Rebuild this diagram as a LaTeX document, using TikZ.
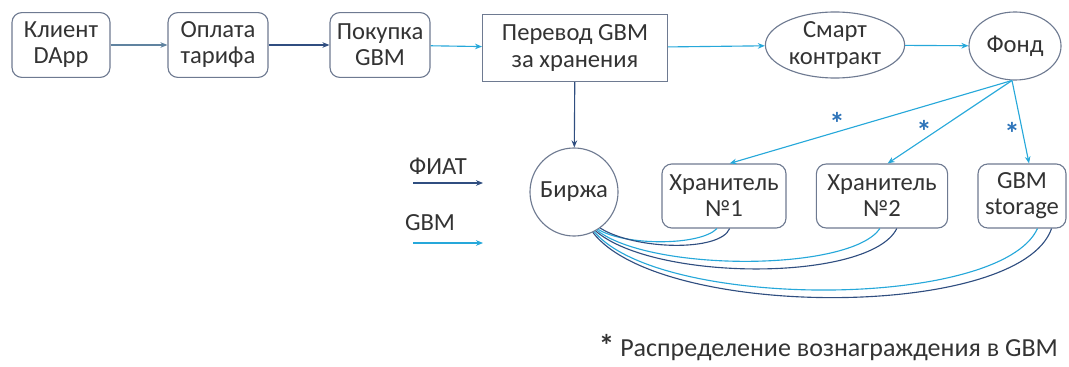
\documentclass[tikz,border=0pt]{standalone}
\usepackage{fontspec}
\setmainfont{Carlito}
\usepackage{tikz}
\usetikzlibrary{arrows.meta,shapes.geometric}

\definecolor{gbmblue}{RGB}{38,168,218}
\definecolor{fiatblue}{RGB}{48,78,128}
\definecolor{starblue}{RGB}{45,115,185}
\definecolor{boxline}{RGB}{110,122,145}

\tikzset{
  every node/.style={font=\fontsize{17.5}{18.5}\selectfont, align=center, text=black!80},
  roundbox/.style={draw=boxline, rounded corners=7pt, minimum height=1.62cm, thick},
  plainbox/.style={draw=boxline, minimum height=1.68cm, thick},
  ovalbox/.style={draw=boxline, ellipse, thick, inner sep=0pt},
  gbm/.style={draw=gbmblue, thick},
  fiat/.style={draw=fiatblue, thick},
  tip/.style={-{Stealth[length=5pt,width=4pt]}},
  star/.style={text=starblue, inner sep=0pt, font=\fontsize{22}{22}\selectfont\bfseries}
}

\begin{document}
\begin{tikzpicture}[x=0.025cm, y=-0.025cm]
        \useasboundingbox (0,0) rectangle (1069,367);
        % Top row
        \node[roundbox, minimum width=2.45cm] (client) at (61,45) {Клиент\\DApp};
        \node[roundbox, minimum width=2.5cm] (tariff) at (218,45) {Оплата\\тарифа};
        \node[roundbox, minimum width=2.5cm] (buy) at (380,45) {Покупка\\GBM};
        \node[plainbox, minimum width=4.62cm] (transfer) at (575,48) {Перевод GBM\\за хранения};
        \node[ovalbox, minimum width=3.48cm, minimum height=1.65cm] (smart) at (835,45) {Смарт\\контракт};
        \node[ovalbox, minimum width=2.3cm, minimum height=1.7cm] (fund) at (1015,46) {Фонд};

        % Exchange and keepers
        \node[draw=boxline, circle, thick, minimum size=2.2cm] (birzha) at (574,192) {Биржа};
        \node[roundbox, minimum width=3.1cm, minimum height=1.6cm] (keep1) at (724,196) {Хранитель\\№1};
        \node[roundbox, minimum width=3.28cm, minimum height=1.6cm] (keep2) at (882,196) {Хранитель\\№2};
        \node[roundbox, minimum width=2.2cm, minimum height=1.6cm] (storage) at (1022,196) {GBM\\storage};

        % Flow of the top row
        \draw[draw=boxline!80!gbmblue, thick, tip] (client) -- (tariff);
        \draw[fiat, tip] (tariff) -- (buy);
        \draw[gbm, tip] (buy) -- (transfer);
        \draw[gbm, tip] (transfer) -- (smart);
        \draw[gbm, tip] (smart) -- (fund);
        \draw[fiat, tip] (transfer) -- (birzha);

        % Rewards from the fund
        \draw[gbm, tip] (fund.-95) -- ([xshift=4pt]keep1.north);
        \draw[gbm, tip] (fund.-95) -- ([xshift=4pt]keep2.north);
        \draw[gbm, tip] (fund.-95) -- ([xshift=5pt]storage.north);
        \node[star] (star1) at (837,123) {*};
        \node[star] (star2) at (924,131) {*};
        \node[star] (star3) at (1012,133) {*};

        % Exchange links
        \draw[gbm] (birzha.-57) .. controls (625,246) and (700,246) .. ([xshift=-5pt]keep1.south);
        \draw[fiat] (birzha.-54) .. controls (635,250) and (720,252) .. ([xshift=4pt]keep1.south);
        \draw[gbm] (birzha.-59) .. controls (650,272) and (850,272) .. ([xshift=-1.5pt]keep2.south);
        \draw[fiat] (birzha.-61) .. controls (655,282) and (870,282) .. ([xshift=10.5pt]keep2.south);
        \draw[gbm] (birzha.-63) .. controls (660,310) and (1000,310) .. ([xshift=11pt]storage.south);
        \draw[fiat] (birzha.-65) .. controls (660,320) and (1020,320) .. ([xshift=21pt]storage.south);

        % Legend
        \node (fiatlabel) at (438,166) {ФИАТ};
        \node (gbmlabel) at (430,223) {GBM};
        \coordinate (fiatA) at (413,183);
        \coordinate (fiatB) at (483,183);
        \coordinate (gbmA) at (413,243);
        \coordinate (gbmB) at (483,243);
        \draw[fiat, tip] (fiatA) -- (fiatB);
        \draw[gbm, tip] (gbmA) -- (gbmB);
        \node[anchor=west, font=\fontsize{18.5}{20}\selectfont] (note) at (594,348) {{\fontsize{22}{22}\selectfont\bfseries *} Распределение вознаграждения в GBM};
    \end{tikzpicture}
\end{document}
